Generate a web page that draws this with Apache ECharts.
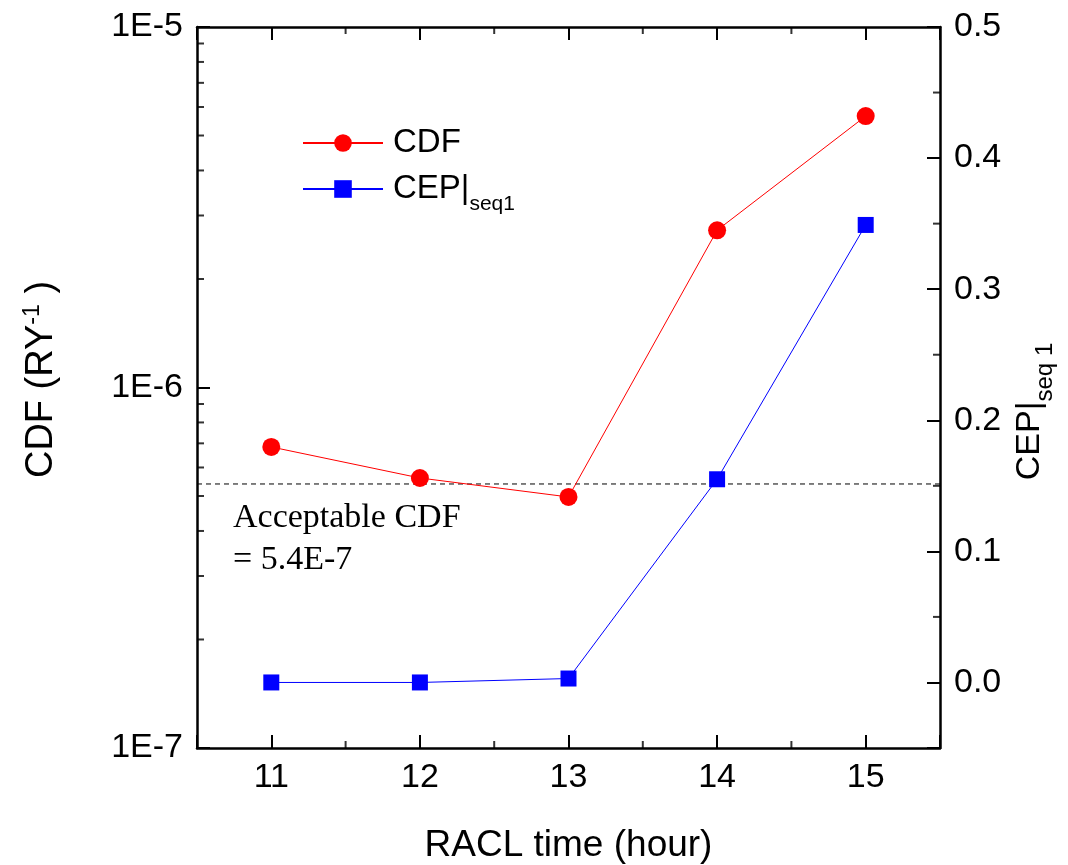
<!DOCTYPE html>
<html>
<head>
<meta charset="utf-8">
<script src="https://cdn.jsdelivr.net/npm/echarts@6/dist/echarts.min.js"></script>
<style>
  html, body { margin: 0; padding: 0; background: #fff; }
  #chart { width: 1068px; height: 865px; }
</style>
</head>
<body>
<div id="chart"></div>
<script>
// ---- data ----
const xValues = [11, 12, 13, 14, 15];
const cdfValues = [6.84e-7, 5.61e-7, 4.97e-7, 2.73e-6, 5.66e-6];
const cepValues = [0.0, 0.0, 0.003, 0.155, 0.349];
const acceptableCDF = 5.4e-7;
const xMinorTicks = [11.5, 12.5, 13.5, 14.5];
const cdfMinorTicks = [2e-7, 3e-7, 4e-7, 5e-7, 6e-7, 7e-7, 8e-7, 9e-7,
                       2e-6, 3e-6, 4e-6, 5e-6, 6e-6, 7e-6, 8e-6, 9e-6];
const cepMinorTicks = [0.05, 0.15, 0.25, 0.35, 0.45];
const xRange = [10.5, 15.5];
const cdfRange = [1e-7, 1e-5];
const cepRange = [-0.05, 0.5];

const FONT = 'Liberation Sans, Arial, sans-serif';
const chart = echarts.init(document.getElementById('chart'));

function tickSeries(data, size, offset, xi, yi) {
  return {
    type: 'scatter', name: '_tick', silent: true, clip: false,
    xAxisIndex: xi, yAxisIndex: yi, z: 5,
    symbol: 'rect', symbolSize: size, symbolOffset: offset,
    itemStyle: { color: '#000' },
    data: data, animation: false
  };
}

const axisLine = { show: true, onZero: false, lineStyle: { color: '#000', width: 2.5 } };
const axisTick = { show: true, inside: true, length: 13, lineStyle: { color: '#000', width: 2 } };

const option = {
  animation: false,
  backgroundColor: '#fff',
  grid: { left: 197, right: 128, top: 27, bottom: 117, containLabel: false, outerBoundsMode: 'none' },
  legend: {
    data: ['CDF', 'CEP'],
    orient: 'vertical',
    left: 302, top: 125, padding: 0,
    itemWidth: 80, itemHeight: 22, itemGap: 10,
    textStyle: {
      fontFamily: FONT, fontSize: 33, color: '#000', lineHeight: 36,
      rich: {
        m: { fontFamily: FONT, fontSize: 33, color: '#000', lineHeight: 36, padding: [0, 0, 0, 5] },
        s: { fontFamily: FONT, fontSize: 21, color: '#000', lineHeight: 21, verticalAlign: 'bottom', padding: [0, 0, -8, 0] }
      }
    },
    formatter: function (n) { return n === 'CEP' ? '{m|CEP|}{s|seq1}' : '{m|CDF}'; }
  },
  xAxis: [{
    type: 'value', min: xRange[0], max: xRange[1], position: 'bottom',
    splitLine: { show: false }, axisLine: axisLine, axisTick: axisTick,
    axisLabel: { fontFamily: FONT, fontSize: 34, color: '#000', margin: 13,
      formatter: function (v) { return Number.isInteger(v) ? String(v) : ''; } },
    name: 'RACL time (hour)', nameLocation: 'middle', nameGap: 79,
    nameTextStyle: { fontFamily: FONT, fontSize: 37, color: '#000' }
  }, {
    type: 'value', min: xRange[0], max: xRange[1], position: 'top',
    splitLine: { show: false }, axisLine: axisLine, axisTick: axisTick,
    axisLabel: { show: false }
  }],
  yAxis: [{
    type: 'log', logBase: 10, min: cdfRange[0], max: cdfRange[1], position: 'left',
    splitLine: { show: false }, axisLine: axisLine, axisTick: axisTick,
    axisLabel: { fontFamily: FONT, fontSize: 34, color: '#000', margin: 14,
      formatter: function (v) { return '1E' + Math.round(Math.log10(v)); } },
    name: '{m|CDF (RY}{p|-1}{m| )}', nameLocation: 'middle', nameGap: 134,
    nameTextStyle: { fontFamily: FONT, fontSize: 38, color: '#000', padding: [0, 0, 0, 16],
      rich: {
        m: { fontFamily: FONT, fontSize: 38, color: '#000', lineHeight: 42 },
        p: { fontFamily: FONT, fontSize: 23, color: '#000', lineHeight: 23, verticalAlign: 'top' }
      } }
  }, {
    type: 'value', min: cepRange[0], max: cepRange[1], position: 'right', splitNumber: 5,
    splitLine: { show: false }, axisLine: axisLine, axisTick: axisTick,
    axisLabel: { fontFamily: FONT, fontSize: 34, color: '#000', margin: 14,
      formatter: function (v) { return v < -1e-9 ? '' : Math.abs(v).toFixed(1); } },
    name: '{m|CEP|}{s|seq 1}', nameLocation: 'middle', nameGap: 71,
    nameTextStyle: { fontFamily: FONT, fontSize: 34, color: '#000', padding: [0, 48, 0, 0],
      rich: {
        m: { fontFamily: FONT, fontSize: 34, color: '#000', lineHeight: 38 },
        s: { fontFamily: FONT, fontSize: 24, color: '#000', lineHeight: 24, verticalAlign: 'bottom', padding: [0, 0, -8, 0] }
      } }
  }],
  graphic: [{
    type: 'text', left: 233, top: 497, z: 10,
    style: { text: 'Acceptable CDF\n= 5.4E-7', fill: '#000',
      font: '34px "Liberation Serif", "Times New Roman", serif', lineHeight: 42 }
  }],
  series: [{
    name: 'Acceptable', type: 'line', xAxisIndex: 0, yAxisIndex: 0, z: 2,
    silent: true, symbol: 'none',
    data: xRange.map(function (x) { return [x, acceptableCDF]; }),
    lineStyle: { color: '#000', width: 1, type: [5, 4] }
  }, {
    name: 'CDF', type: 'line', xAxisIndex: 0, yAxisIndex: 0, z: 3,
    data: xValues.map(function (x, i) { return [x, cdfValues[i]]; }),
    symbol: 'circle', symbolSize: 18,
    lineStyle: { color: '#ff0000', width: 1 },
    itemStyle: { color: '#ff0000' }
  }, {
    name: 'CEP', type: 'line', xAxisIndex: 0, yAxisIndex: 1, z: 3,
    data: xValues.map(function (x, i) { return [x, cepValues[i]]; }),
    symbol: 'rect', symbolSize: 16,
    lineStyle: { color: '#0000ff', width: 1 },
    itemStyle: { color: '#0000ff' }
  },
  tickSeries(cdfMinorTicks.map(function (v) { return [xRange[0], v]; }), [7, 2], [3.5, 0], 0, 0),
  tickSeries(cepMinorTicks.map(function (v) { return [xRange[1], v]; }), [7, 2], [-3.5, 0], 0, 1),
  tickSeries(xMinorTicks.map(function (v) { return [v, cdfRange[0]]; }), [2, 7], [0, -3.5], 0, 0),
  tickSeries(xMinorTicks.map(function (v) { return [v, cdfRange[1]]; }), [2, 7], [0, 3.5], 0, 0)
  ]
};
chart.setOption(option);
</script>
</body>
</html>
